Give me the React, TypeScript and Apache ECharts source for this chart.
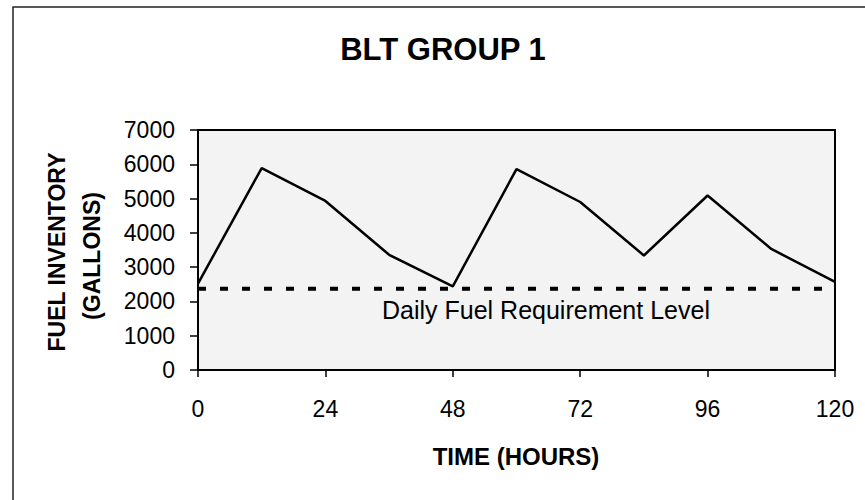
import React, { useEffect, useRef } from "react";
import * as echarts from "echarts";

const hours = [0, 12, 24, 36, 48, 60, 72, 84, 96, 108, 120];
const inventory = [2520, 5890, 4930, 3360, 2440, 5860, 4900, 3340, 5090, 3530, 2570];
const requirementLevel = 2370;
const xTicks = [0, 24, 48, 72, 96, 120];
const yTicks = [0, 1000, 2000, 3000, 4000, 5000, 6000, 7000];

const FONT = "'Liberation Sans', Arial, Helvetica, sans-serif";

export default function App() {
  const ref = useRef<HTMLDivElement>(null);
  useEffect(() => {
    if (!ref.current) return;
    document.body.style.margin = "0";
    const chart = echarts.init(ref.current, null, { renderer: "svg" });
    const option: any = {
      animation: false,
      backgroundColor: "#ffffff",
      grid: {
        left: 198,
        right: 30,
        top: 130,
        bottom: 130,
        show: true,
        backgroundColor: "#f3f3f3",
        borderColor: "#000",
        borderWidth: 2,
      },
      xAxis: {
        type: "value",
        min: xTicks[0],
        max: xTicks[xTicks.length - 1],
        interval: xTicks[1] - xTicks[0],
        axisLine: { show: true, lineStyle: { color: "#000", width: 2 } },
        axisTick: { show: true, inside: false, length: 7, lineStyle: { color: "#000", width: 1.5 } },
        axisLabel: { color: "#000", fontSize: 23, fontFamily: FONT, margin: 27 },
        splitLine: { show: false },
      },
      yAxis: {
        type: "value",
        min: yTicks[0],
        max: yTicks[yTicks.length - 1],
        interval: yTicks[1] - yTicks[0],
        axisLine: { show: true, lineStyle: { color: "#000", width: 2 } },
        axisTick: { show: true, inside: false, length: 8, lineStyle: { color: "#000", width: 1.5 } },
        axisLabel: {
          color: "#000",
          fontSize: 23,
          fontFamily: FONT,
          margin: 23,
          formatter: (v: number) => String(v),
        },
        splitLine: { show: false },
      },
      series: [
        {
          type: "line",
          data: hours.map((h, i) => [h, inventory[i]]),
          showSymbol: false,
          symbol: "none",
          lineStyle: { color: "#000", width: 2.5 },
          z: 3,
        },
        {
          type: "line",
          data: [
            [hours[0], requirementLevel],
            [hours[hours.length - 1], requirementLevel],
          ],
          showSymbol: false,
          symbol: "none",
          lineStyle: { color: "#000", width: 4, type: [8, 14] },
          z: 2,
        },
      ],
      graphic: [
        {
          type: "rect",
          shape: { x: 13, y: 7, width: 900, height: 600 },
          style: { fill: "none", stroke: "#222", lineWidth: 1.5 },
          silent: true,
        },
        {
          type: "text",
          x: 443,
          y: 49,
          style: {
            text: "BLT GROUP 1",
            font: `bold 31px ${FONT}`,
            fill: "#000",
            textAlign: "center",
            textVerticalAlign: "middle",
          },
        },
        {
          type: "text",
          x: 516,
          y: 456,
          style: {
            text: "TIME (HOURS)",
            font: `bold 24px ${FONT}`,
            fill: "#000",
            textAlign: "center",
            textVerticalAlign: "middle",
          },
        },
        {
          type: "text",
          x: 57,
          y: 252,
          rotation: Math.PI / 2,
          style: {
            text: "FUEL INVENTORY",
            font: `bold 23px ${FONT}`,
            fill: "#000",
            textAlign: "center",
            textVerticalAlign: "middle",
          },
        },
        {
          type: "text",
          x: 92,
          y: 256,
          rotation: Math.PI / 2,
          style: {
            text: "(GALLONS)",
            font: `bold 23px ${FONT}`,
            fill: "#000",
            textAlign: "center",
            textVerticalAlign: "middle",
          },
        },
        {
          type: "text",
          x: 382,
          y: 310,
          z: 10,
          style: {
            text: "Daily Fuel Requirement Level",
            font: `25px ${FONT}`,
            fill: "#000",
            textAlign: "left",
            textVerticalAlign: "middle",
          },
        },
      ],
    };
    chart.setOption(option);
    return () => chart.dispose();
  }, []);
  return <div ref={ref} style={{ width: 865, height: 500 }} />;
}
